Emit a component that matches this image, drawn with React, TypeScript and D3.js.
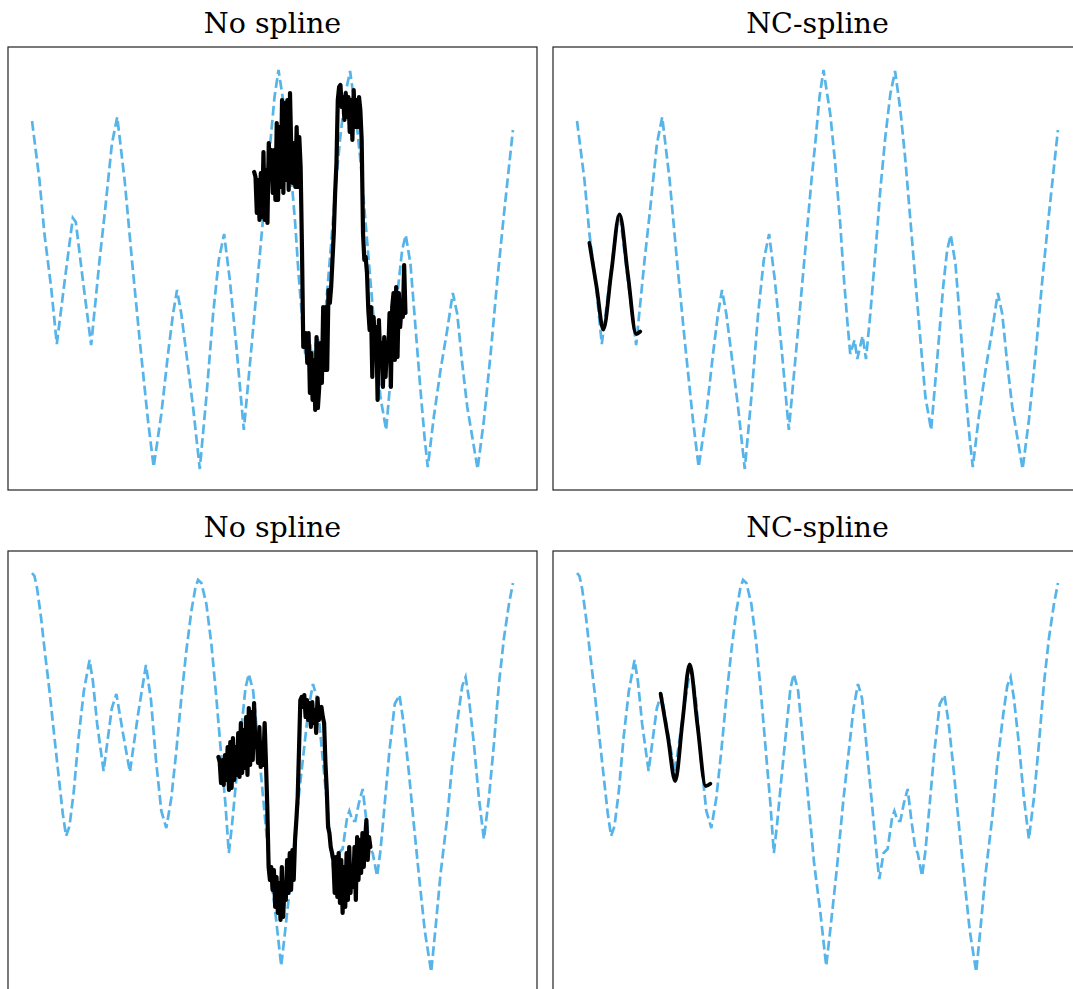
import React from 'react'
import * as d3 from 'd3'

// dashed "truth" curve, top row
const topX = [0.000, 0.154, 0.258, 0.396, 0.515, 0.681, 0.848, 0.910, 1.056, 1.229, 1.404, 1.521, 1.660, 1.771, 1.925, 2.077, 2.238, 2.410, 2.529, 2.688, 2.827, 2.931, 3.015, 3.104, 3.244, 3.348, 3.488, 3.625, 3.765, 3.883, 3.994, 4.113, 4.250, 4.404, 4.563, 4.738, 4.875, 4.952, 5.042, 5.125, 5.265, 5.369, 5.473, 5.542, 5.625, 5.681, 5.771, 5.827, 5.938, 6.008, 6.098, 6.202, 6.306, 6.410, 6.515, 6.613, 6.723, 6.827, 6.931, 7.035, 7.140, 7.244, 7.363, 7.488, 7.613, 7.696, 7.771, 7.869, 7.973, 8.077, 8.167, 8.229, 8.354, 8.494, 8.633, 8.750, 8.842, 8.946, 9.050, 9.154, 9.265, 9.396, 9.535, 9.675, 9.813, 9.917, 10.000]
const topY = [1.49, 0.90, 0.36, -0.17, -0.74, -0.10, 0.52, 0.48, -0.10, -0.75, 0.10, 0.61, 1.26, 1.53, 0.90, 0.10, -0.70, -1.50, -1.97, -1.44, -0.84, -0.44, -0.20, -0.44, -0.97, -1.37, -1.99, -1.27, -0.44, 0.10, 0.36, -0.10, -0.77, -1.60, -0.77, 0.16, 0.90, 1.26, 1.73, 2.00, 1.56, 1.06, 0.46, -0.04, -0.54, -0.84, -0.70, -0.89, -0.66, -0.89, -0.44, 0.16, 0.80, 1.33, 1.76, 1.99, 1.60, 1.10, 0.50, -0.10, -0.70, -1.27, -1.60, -0.90, -0.17, 0.20, 0.35, 0.06, -0.57, -1.20, -1.70, -1.97, -1.47, -1.00, -0.60, -0.23, -0.44, -0.94, -1.37, -1.67, -1.99, -1.50, -0.84, -0.10, 0.56, 1.03, 1.40]

// dashed "truth" curve, bottom row
const botX = [0.000, 0.050, 0.104, 0.188, 0.271, 0.363, 0.467, 0.571, 0.640, 0.708, 0.779, 0.869, 0.967, 1.077, 1.196, 1.265, 1.354, 1.488, 1.577, 1.660, 1.754, 1.890, 2.035, 2.202, 2.369, 2.473, 2.577, 2.688, 2.792, 2.896, 3.000, 3.104, 3.208, 3.313, 3.396, 3.452, 3.521, 3.625, 3.729, 3.833, 3.938, 4.021, 4.092, 4.160, 4.250, 4.354, 4.438, 4.508, 4.598, 4.702, 4.806, 4.931, 5.056, 5.181, 5.279, 5.404, 5.542, 5.667, 5.750, 5.842, 5.925, 6.029, 6.133, 6.223, 6.285, 6.375, 6.458, 6.550, 6.598, 6.667, 6.723, 6.792, 6.875, 6.946, 7.035, 7.083, 7.175, 7.244, 7.333, 7.431, 7.542, 7.640, 7.729, 7.833, 7.938, 8.042, 8.167, 8.300, 8.390, 8.494, 8.633, 8.738, 8.863, 8.946, 9.015, 9.083, 9.188, 9.292, 9.396, 9.500, 9.604, 9.708, 9.813, 9.917, 10.000]
const botY = [1.99, 1.96, 1.84, 1.54, 1.18, 0.81, 0.34, -0.12, -0.42, -0.64, -0.54, -0.19, 0.34, 0.81, 1.12, 0.91, 0.48, 0.01, 0.34, 0.64, 0.78, 0.39, 0.00, 0.57, 1.07, 0.72, 0.12, -0.39, -0.56, -0.26, 0.21, 0.74, 1.21, 1.61, 1.84, 1.92, 1.89, 1.68, 1.28, 0.74, 0.14, -0.32, -0.81, -0.52, -0.06, 0.44, 0.84, 0.98, 0.81, 0.28, -0.26, -0.92, -1.39, -1.94, -1.52, -0.96, -0.26, 0.28, 0.64, 0.88, 0.74, 0.21, -0.32, -0.79, -1.07, -0.81, -0.77, -0.46, -0.39, -0.49, -0.49, -0.32, -0.17, -0.46, -0.77, -0.81, -1.04, -0.79, -0.32, 0.21, 0.68, 0.77, 0.48, 0.01, -0.52, -1.02, -1.59, -2.00, -1.56, -1.02, -0.46, 0.08, 0.58, 0.86, 0.95, 0.74, 0.28, -0.26, -0.67, -0.26, 0.28, 0.88, 1.34, 1.68, 1.89]

// noisy observations (no spline), evenly sampled between start and end
const topNoisyStart = 4.619
const topNoisyEnd = 7.765
const topNoisy = [0.98, 0.93, 0.57, 0.90, 0.50, 0.97, 0.53, 1.18, 0.50, 1.00, 0.47, 1.27, 1.00, 1.20, 0.77, 1.20, 0.70, 1.47, 0.70, 1.43, 0.83, 1.70, 0.77, 1.67, 0.90, 1.70, 0.80, 1.77, 1.17, 0.87, 1.27, 0.83, 1.43, 0.83, 1.33, 1.03, 0.23, -0.77,
  -0.77, -0.63, -0.93, -0.63, -1.23, -0.83, -1.30, -0.90, -1.40, -0.67, -1.38, -1.17, -0.73, -1.13, -0.37, -1.00, -0.37, -1.00,
  -0.20, -0.33, -0.17, 0.10, 0.37, 0.77, 1.07, 1.70, 1.83,
  1.85, 1.63, 1.73, 1.50, 1.77, 1.53, 1.73, 1.38, 1.70, 1.30, 1.80, 1.43, 1.70, 1.43, 1.73, 1.60, 1.30,
  0.37, 0.10, 0.13, -0.03, -0.40, -0.60,
  -0.37, -1.07, -0.47, -0.73, -0.57, -1.30, -0.50, -0.90, -0.73, -1.17, -0.67, -1.07, -0.77, -0.83, -0.43, -1.17, -0.37, -0.23, -0.90, -0.17, -0.87, -0.23, -0.57, -0.37, -0.47, 0.05, -0.43]

const botNoisyStart = 3.875
const botNoisyEnd = 7.035
const botNoisy = [0.15, 0.10, -0.11, 0.12, -0.13, 0.17, -0.08, 0.25, -0.18, 0.30, -0.16, 0.34, -0.08, 0.25, -0.03, 0.39, -0.05, 0.49, -0.01, 0.42, 0.04, 0.55, -0.03, 0.64, 0.07, 0.60, 0.12, 0.69, 0.25, 0.35, 0.09, 0.45, 0.05, 0.25, 0.07, 0.49, 0.09,
  -0.35, -0.95,
  -1.08, -0.95, -1.18, -0.98, -1.35, -1.05, -1.41, -1.11, -1.48, -0.95, -1.45, -1.15, -1.28, -0.88, -1.21, -0.81, -1.18, -0.78, -1.08, -0.68,
  -0.48, -0.25, 0.22, 0.72,
  0.75, 0.65, 0.77, 0.55, 0.72, 0.52, 0.69, 0.45, 0.70, 0.49, 0.62, 0.39, 0.74, 0.52, 0.59, 0.65, 0.55, 0.49,
  0.09, -0.18, -0.55, -0.61, -0.75, -0.81,
  -0.88, -1.21, -0.85, -1.25, -0.81, -1.31, -0.88, -1.41, -0.95, -1.35, -0.81, -1.28, -0.75, -1.21, -0.95, -1.15, -0.75, -1.28, -0.65, -1.08, -0.68, -1.01, -0.61, -0.95, -0.68, -0.48, -0.88, -0.65, -0.75]

// natural cubic spline fits
const topSplineX = [0.258, 0.410, 0.546, 0.713, 0.883, 1.056, 1.229, 1.313]
const topSplineY = [0.27, -0.18, -0.595, -0.02, 0.557, -0.04, -0.64, -0.615]
const botSplineX = [1.738, 1.890, 2.042, 2.192, 2.342, 2.504, 2.675, 2.771]
const botSplineY = [0.783, 0.35, -0.09, 0.50, 1.077, 0.47, -0.14, -0.117]

const xLim = [-0.5, 10.5]
const topYLim = [-2.2, 2.23]
const botYLim = [-2.22, 2.21]

const titles = ['No spline', 'NC-spline']

const BLUE = '#56B4E9'

const Panel = ({left, top, width, height, title, yLim, truth, fit, smooth}) => {
  const x = d3.scaleLinear().domain(xLim).range([left, left + width])
  const y = d3.scaleLinear().domain(yLim).range([top + height, top])

  const line = d3.line().x(d => x(d[0])).y(d => y(d[1]))
  const fitLine = d3.line().x(d => x(d[0])).y(d => y(d[1]))
    .curve(smooth ? d3.curveMonotoneX : d3.curveLinear)

  return (
    <g>
      <text x={left + width / 2} y={top - 14} textAnchor="middle"
        fontFamily="DejaVu Serif" fontSize={28.5} fill="#000">{title}</text>
      <path d={line(truth)} fill="none" stroke={BLUE} strokeWidth={2.7}
        strokeDasharray="9.8 4.2" />
      <path d={fitLine(fit)} fill="none" stroke="#000" strokeWidth={smooth ? 3.8 : 4.2}
        strokeLinejoin="round" strokeLinecap="round" />
      <rect x={left} y={top} width={width} height={height} fill="none" stroke="#222" strokeWidth={1.2} />
    </g>
  )
}

const evenly = (vals, start, end) => {
  const s = d3.scaleLinear().domain([0, vals.length - 1]).range([start, end])
  return vals.map((v, i) => [s(i), v])
}

const App = () => {
  const topTruth = d3.zip(topX, topY)
  const botTruth = d3.zip(botX, botY)

  const rows = [
    {top: 47, yLim: topYLim, truth: topTruth,
      noisy: evenly(topNoisy, topNoisyStart, topNoisyEnd), spline: d3.zip(topSplineX, topSplineY)},
    {top: 551, yLim: botYLim, truth: botTruth,
      noisy: evenly(botNoisy, botNoisyStart, botNoisyEnd), spline: d3.zip(botSplineX, botSplineY)}
  ]
  const cols = [8, 553]
  const w = 529
  const h = 443

  return (
    <svg width={1073} height={989} style={{position: 'absolute', left: 0, top: 0, background: '#fff'}}>
      {rows.map((r, ri) => cols.map((c, ci) => (
        <Panel key={ri + '-' + ci} left={c} top={r.top} width={w} height={h}
          title={titles[ci]} yLim={r.yLim} truth={r.truth}
          fit={ci === 0 ? r.noisy : r.spline} smooth={ci === 1} />
      )))}
    </svg>
  )
}

export default App
